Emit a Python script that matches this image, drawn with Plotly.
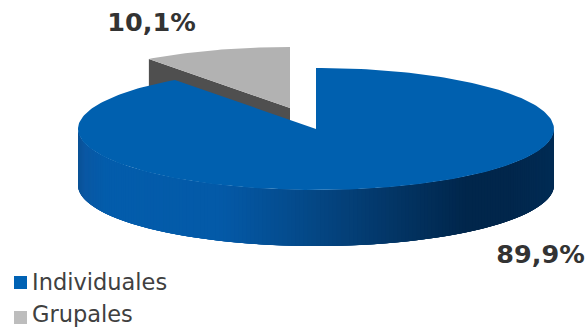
import numpy as np
import plotly.graph_objects as go

categories = ["Individuales", "Grupales"]
shares = [89.9, 10.1]
value_labels = ["89,9%", "10,1%"]
top_colors = ["#0060AF", "#B2B2B2"]
legend_colors = ["#0062B4", "#BDBDBD"]
wall_color_grey = "#4F4F4F"

# Tilted-disc geometry, in pixel units of the plotting area
CX, CY, RX, RY, DEPTH = 316.0, 129.0, 238.0, 61.0, 56.0
EXPLODE_DX, EXPLODE_DY = -26.0, -21.0

# Shading of the outer wall from its left end to its right end
wall_stops = [0.0, 0.015, 0.06, 0.3, 0.47, 0.68, 0.82, 0.9, 1.0]
wall_colors = ["#0A5296", "#0A58A4", "#035DAC", "#045AA8", "#054A8A", "#033463", "#01264B", "#01264B", "#012C55"]


def hex_rgb(value):
    return np.array([int(value[i:i + 2], 16) for i in (1, 3, 5)], dtype=float)


def wall_color(t):
    rgb = [np.interp(t, wall_stops, [hex_rgb(c)[k] for c in wall_colors]) for k in range(3)]
    return "rgb(%d,%d,%d)" % tuple(rgb)


def rim(deg, dx=0.0, dy=0.0):
    a = np.radians(deg)
    return CX + dx + RX * np.sin(a), CY + dy - RY * np.cos(a)


def polygon(xs, ys, color):
    return go.Scatter(
        x=list(xs), y=list(ys), mode="lines", fill="toself", fillcolor=color,
        line=dict(color=color, width=0), hoverinfo="skip", showlegend=False,
    )


blue_end = 360.0 * shares[0] / sum(shares)
fig = go.Figure()

# Grey slice, pulled away from the centre: cut face first, then its top
grey_edge_x, grey_edge_y = rim(blue_end, EXPLODE_DX, EXPLODE_DY)
apex_x, apex_y = CX + EXPLODE_DX, CY + EXPLODE_DY
fig.add_trace(polygon(
    [grey_edge_x, apex_x, apex_x, grey_edge_x],
    [grey_edge_y, apex_y, apex_y + DEPTH, grey_edge_y + DEPTH],
    wall_color_grey,
))
grey_angles = np.linspace(blue_end, 360.0, 40)
gx, gy = rim(grey_angles, EXPLODE_DX, EXPLODE_DY)
fig.add_trace(polygon([apex_x, *gx], [apex_y, *gy], top_colors[1]))

# Outer wall of the blue slice: strips painted left to right, each one
# running on under its next neighbours so no seams show between them
strip_edges = np.linspace(270.0, 90.0, 181)
for i in range(len(strip_edges) - 1):
    span = strip_edges[i:min(i + 5, len(strip_edges))]
    xs, ys = rim(span)
    t = (xs[:2].mean() - (CX - RX)) / (2 * RX)
    fig.add_trace(polygon(
        [*xs, *xs[::-1]], [*ys, *(ys[::-1] + DEPTH)], wall_color(t),
    ))

# Blue top face
blue_angles = np.linspace(0.0, blue_end, 240)
bx, by = rim(blue_angles)
fig.add_trace(polygon([CX, *bx], [CY, *by], top_colors[0]))

# Percentage labels
fig.add_trace(go.Scatter(
    x=[540.5, 151.5], y=[257, 24.5], mode="text", text=value_labels,
    textfont=dict(family="DejaVu Sans", size=25.5, color="#333333"),
    texttemplate="<b>%{text}</b>", textposition="middle center",
    hoverinfo="skip", showlegend=False,
))

# Legend column at the lower left
fig.add_trace(go.Scatter(
    x=[20.5, 20.5], y=[282.5, 317.5], mode="markers",
    marker=dict(symbol="square", size=13, color=legend_colors),
    hoverinfo="skip", showlegend=False,
))
fig.add_trace(go.Scatter(
    x=[32, 32], y=[284, 316], mode="text", text=categories,
    textfont=dict(family="DejaVu Sans", size=22.5, color="#404040"),
    textposition="middle right", hoverinfo="skip", showlegend=False,
))

fig.update_layout(
    width=587, height=327, margin=dict(l=0, r=0, t=0, b=0),
    paper_bgcolor="white", plot_bgcolor="white", showlegend=False,
    xaxis=dict(range=[0, 587], visible=False),
    yaxis=dict(range=[327, 0], visible=False),
)
fig.write_html("out.html", config={"displayModeBar": False})
